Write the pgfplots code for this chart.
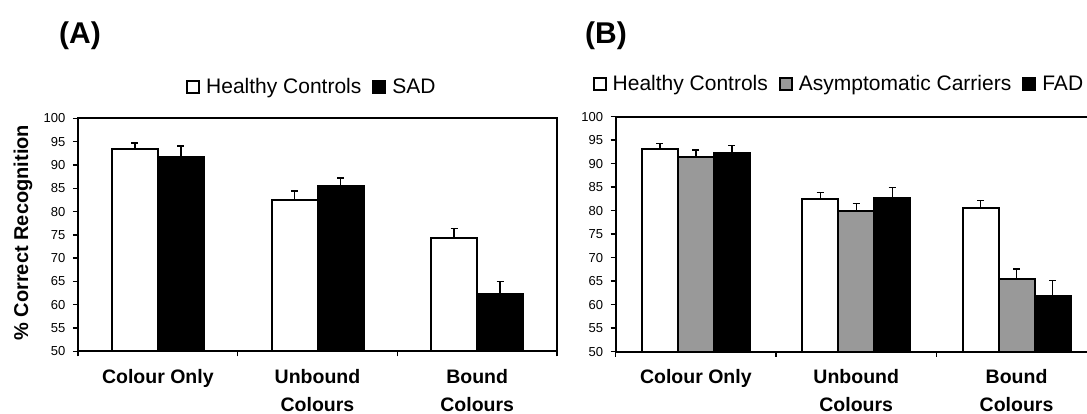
\documentclass[border=0pt]{standalone}
\usepackage{fontspec}
\setmainfont{Liberation Sans}
\usepackage{pgfplots}
\pgfplotsset{compat=1.18}
\definecolor{barGray}{HTML}{999999}

\pgfplotsset{
  panel/.style={
    scale only axis, anchor=south west,
    xmin=0, xmax=3, ymin=50, ymax=100,
    ybar,
    ytick={50,55,...,100},
    xtick={0,1,2,3}, xticklabels={},
    extra x ticks={0.5,1.5,2.5},
    extra x tick labels={Colour Only,{Unbound\\Colours},{Bound\\Colours}},
    extra x tick style={major tick length=0pt,
      xticklabel style={font=\bfseries\fontsize{19.5}{28}\selectfont, align=center, inner sep=0pt, anchor=north, yshift=-17.7pt}},
    tick align=outside, major tick length=5pt,
    xtick pos=bottom, ytick pos=left,
    tick style={line width=1.4pt, black},
    axis line style={line width=2pt},
    /pgf/number format/assume math mode=true,
    yticklabel style={font=\fontsize{13}{15}\selectfont, inner sep=0pt, anchor=east, xshift=-7.5pt},
    legend columns=-1,
    legend image code/.code={\draw[##1, line width=2pt] (1pt,-6pt) rectangle (13pt,6pt);},
    legend style={draw=none, fill=none, inner sep=0pt, font=\fontsize{21}{25}\selectfont,
      nodes={inner sep=0pt},
      column sep=0pt,
      /tikz/every odd column/.append style={column sep=6pt},
      /tikz/every even column/.append style={column sep=11pt}},
  },
  barstyle/.style={draw=black, line width=2pt,
      error bars/.cd, y dir=plus, y explicit,
      error bar style={line width=1.4pt, black},
      error mark options={rotate=90, mark size=3.5pt, line width=1.4pt, black}},
}

\begin{document}
\begin{tikzpicture}[x=1pt,y=1pt]
\path[use as bounding box] (0,0) rectangle (1087,414);
\clip (0,0) rectangle (1087,414);

\node[anchor=base west, font=\bfseries\fontsize{30}{34}\selectfont, inner sep=0pt] at (59,370) {(A)};
\node[anchor=base west, font=\bfseries\fontsize{30}{34}\selectfont, inner sep=0pt] at (585,370) {(B)};

% Panel A
\begin{axis}[panel, at={(78pt,62.7pt)}, width=479pt, height=232.9pt,
  ylabel={\% Correct Recognition},
  ylabel style={at={(axis description cs:-0.1148,0.509)}, anchor=center, font=\bfseries\fontsize{20}{24}\selectfont},
  legend style={at={(axis description cs:0.2255,1.135)}, anchor=west},
]
\addplot[fill=white, bar width=46pt, bar shift=-23pt, barstyle] coordinates {
  (0.5,93.4) +- (0,1.3)
  (1.5,82.4) +- (0,2.0)
  (2.5,74.4) +- (0,1.9)
};
\addlegendentry{Healthy Controls}
\addplot[fill=black, bar width=46pt, bar shift=23pt, barstyle] coordinates {
  (0.5,91.8) +- (0,2.3)
  (1.5,85.5) +- (0,1.7)
  (2.5,62.3) +- (0,2.7)
};
\addlegendentry{SAD}
\end{axis}

% Panel B
\begin{axis}[panel, at={(615.7pt,62.3pt)}, width=481pt, height=235.1pt,
  legend style={at={(axis description cs:-0.0482,1.1387)}, anchor=west},
]
\addplot[fill=white, bar width=36pt, bar shift=-36pt, barstyle] coordinates {
  (0.5,93.2) +- (0,1.1)
  (1.5,82.5) +- (0,1.4)
  (2.5,80.6) +- (0,1.5)
};
\addlegendentry{Healthy Controls}
\addplot[fill=barGray, bar width=36pt, bar shift=0pt, barstyle] coordinates {
  (0.5,91.5) +- (0,1.4)
  (1.5,80.0) +- (0,1.5)
  (2.5,65.5) +- (0,2.1)
};
\addlegendentry{Asymptomatic Carriers}
\addplot[fill=black, bar width=36pt, bar shift=36pt, barstyle] coordinates {
  (0.5,92.2) +- (0,1.7)
  (1.5,82.6) +- (0,2.3)
  (2.5,61.9) +- (0,3.3)
};
\addlegendentry{FAD}
\end{axis}
\end{tikzpicture}
\end{document}
